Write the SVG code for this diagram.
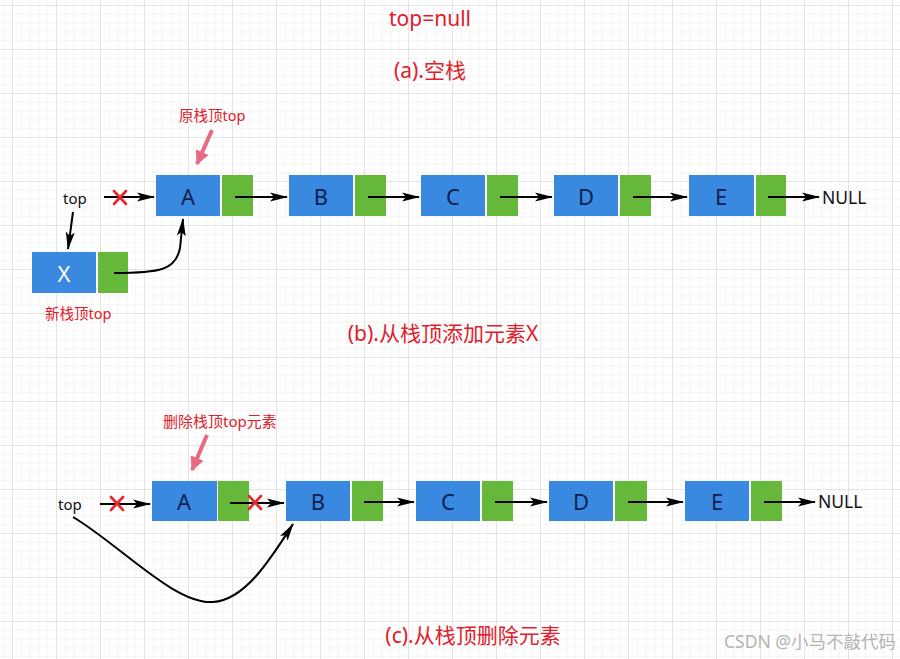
<svg xmlns="http://www.w3.org/2000/svg" width="900" height="659" viewBox="0 0 900 659">
<defs>
<pattern id="minor" patternUnits="userSpaceOnUse" x="12" y="5" width="8.8" height="8.8">
<path d="M0,0 H8.8 M0,0 V8.8" fill="none" stroke="#ececec" stroke-width="1"/>
</pattern>
<pattern id="major" patternUnits="userSpaceOnUse" x="12" y="5" width="44" height="44">
<path d="M0,0 H44 M0,0 V44" fill="none" stroke="#d4d4d4" stroke-width="1"/>
</pattern>
<marker id="ah" markerUnits="userSpaceOnUse" markerWidth="18" markerHeight="10" refX="17" refY="5" orient="auto">
<path d="M0,0.5 L18,5 L0,9.5 L4,5 Z" fill="#000"/>
</marker>
<marker id="ahp" markerUnits="userSpaceOnUse" markerWidth="14" markerHeight="14" refX="13" refY="7" orient="auto">
<path d="M0,0 L14,7 L0,14 Z" fill="#ea6a84"/>
</marker>
</defs>
<style>
.b{fill:#3a89e0}
.g{fill:#66b83a}
.lbl{font-family:"Noto Sans","Noto Sans CJK SC",sans-serif;font-size:22px;fill:#0e1e4e;text-anchor:middle;dominant-baseline:central}
.w{fill:#ffffff}
.blk{font-family:"Noto Sans","Noto Sans CJK SC",sans-serif;font-size:15px;fill:#111;dominant-baseline:central}
.red{font-family:"Noto Sans","Noto Sans CJK SC",sans-serif;fill:#e0202a;dominant-baseline:central}
.s13{font-size:14.5px}
.s18{font-size:21px;text-anchor:middle}
.ln{fill:none;stroke:#000;stroke-width:2;marker-end:url(#ah)}
.pk{fill:none;stroke:#ea6a84;stroke-width:4;marker-end:url(#ahp)}
.x{stroke:#e8262c;stroke-width:2.6;stroke-linecap:round}
</style>
<rect width="900" height="659" fill="#ffffff"/>
<rect width="900" height="659" fill="url(#minor)"/>
<rect width="900" height="659" fill="url(#major)"/>

<g id="title-a">
<text class="red s18" x="430" y="18">top=null</text>
<text class="red s18" x="430" y="70">(a).空栈</text>
</g>

<!-- Section b -->
<g id="b-top"><text class="blk" x="63" y="198">top</text></g>
<g id="b-label-old"><text class="red s13" x="179" y="115">原栈顶top</text></g>
<g id="b-A"><rect class="b" x="156" y="175" width="64" height="41"/><rect class="g" x="222" y="175" width="31" height="41"/><text class="lbl" x="188" y="196">A</text></g>
<g id="b-B"><rect class="b" x="289" y="175" width="64" height="41"/><rect class="g" x="355" y="175" width="31" height="41"/><text class="lbl" x="321" y="196">B</text></g>
<g id="b-C"><rect class="b" x="421" y="175" width="64" height="41"/><rect class="g" x="487" y="175" width="31" height="41"/><text class="lbl" x="453" y="196">C</text></g>
<g id="b-D"><rect class="b" x="554" y="175" width="64" height="41"/><rect class="g" x="620" y="175" width="31" height="41"/><text class="lbl" x="586" y="196">D</text></g>
<g id="b-E"><rect class="b" x="689" y="175" width="65" height="41"/><rect class="g" x="756" y="175" width="30" height="41"/><text class="lbl" x="721" y="196">E</text></g>
<g id="b-X"><rect class="b" x="32" y="252" width="64" height="41"/><rect class="g" x="98" y="252" width="30" height="41"/><text class="lbl w" x="64" y="273">X</text></g>
<g id="b-NULL"><text class="blk" x="822" y="197" style="font-size:17.5px">NULL</text></g>
<g id="b-label-new"><text class="red s13" x="45" y="313">新栈顶top</text></g>
<g id="title-b"><text class="red s18" x="443" y="333">(b).从栈顶添加元素X</text></g>

<!-- Section c -->
<g id="c-top"><text class="blk" x="58" y="504">top</text></g>
<g id="c-label"><text class="red" x="163" y="421" style="font-size:15px">删除栈顶top元素</text></g>
<g id="c-A"><rect class="b" x="152" y="481" width="65" height="40"/><rect class="g" x="218" y="481" width="31" height="40"/><text class="lbl" x="184" y="501">A</text></g>
<g id="c-B"><rect class="b" x="286" y="481" width="64" height="40"/><rect class="g" x="352" y="481" width="31" height="40"/><text class="lbl" x="318" y="501">B</text></g>
<g id="c-C"><rect class="b" x="416" y="481" width="64" height="40"/><rect class="g" x="482" y="481" width="31" height="40"/><text class="lbl" x="448" y="501">C</text></g>
<g id="c-D"><rect class="b" x="549" y="481" width="64" height="40"/><rect class="g" x="615" y="481" width="32" height="40"/><text class="lbl" x="581" y="501">D</text></g>
<g id="c-E"><rect class="b" x="685" y="481" width="64" height="40"/><rect class="g" x="751" y="481" width="31" height="40"/><text class="lbl" x="717" y="501">E</text></g>
<g id="c-NULL"><text class="blk" x="818" y="501" style="font-size:17.5px">NULL</text></g>
<g id="title-c"><text class="red s18" x="473" y="635">(c).从栈顶删除元素</text></g>

<g id="connectors">
<!-- b -->
<path class="pk" d="M212,130 L197,164"/>
<path class="ln" d="M104,197 L154,197"/>
<path class="ln" d="M73,212 L68,249"/>
<path class="ln" d="M114,273 C160,273 176,270 180,248 L183,219"/>
<path class="ln" d="M235,197 L287,197"/>
<path class="ln" d="M368,197 L419,197"/>
<path class="ln" d="M500,197 L552,197"/>
<path class="ln" d="M633,197 L687,197"/>
<path class="ln" d="M768,197 L819,197"/>
<!-- c -->
<path class="pk" d="M207,435 L192,470"/>
<path class="ln" d="M100,504 L150,504"/>
<path class="ln" d="M230,503 L284,503"/>
<path class="ln" d="M364,502 L414,502"/>
<path class="ln" d="M495,502 L547,502"/>
<path class="ln" d="M628,502 L683,502"/>
<path class="ln" d="M764,502 L815,502"/>
<path class="ln" d="M73,517 C120,545 175,605 213,602 C245,600 270,560 293,524"/>
</g>

<g id="crosses">
<path class="x" d="M114,191 L126,204 M126,191 L114,204"/>
<path class="x" d="M111,497 L123,510 M123,497 L111,510"/>
<path class="x" d="M249,496 L261,509 M261,496 L249,509"/>
</g>

<g id="watermark"><text x="724" y="641" style="font-family:'Noto Sans','Noto Sans CJK SC',sans-serif;font-size:17.5px;fill:#b4b4b4;dominant-baseline:central">CSDN @小马不敲代码</text></g>
</svg>
